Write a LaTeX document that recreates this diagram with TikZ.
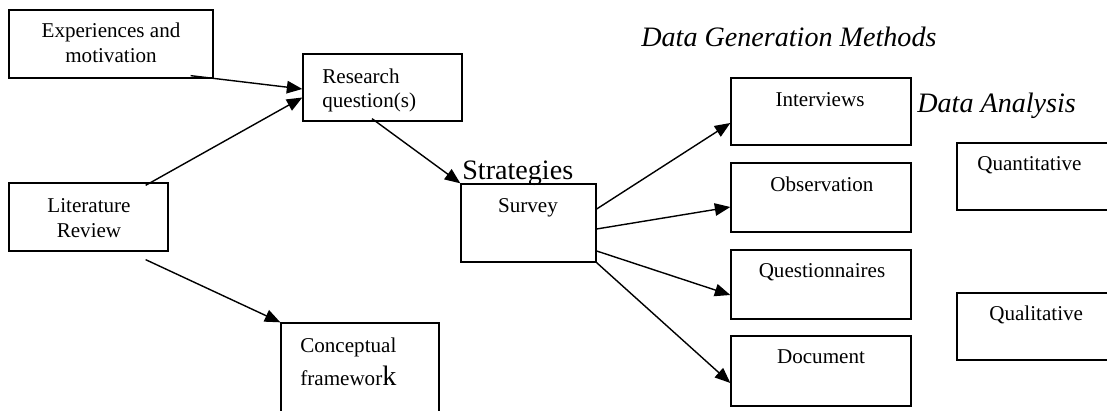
\documentclass[tikz,border=0pt]{standalone}
\usepackage{fontspec}
\setmainfont{Liberation Serif}
\usetikzlibrary{arrows.meta,calc,fit}
\begin{document}
\begin{tikzpicture}[x=0.02cm,y=-0.02cm,
  box/.style={draw,line width=0.75pt,inner sep=0pt},
  txt/.style={inner sep=0pt,anchor=base,font=\fontsize{12}{14}\selectfont},
  txtl/.style={txt,anchor=base west},
  big/.style={inner sep=0pt,anchor=base west,font=\fontsize{16}{19}\selectfont},
  bigit/.style={big,font=\fontsize{16}{19}\selectfont\itshape},
  arr/.style={line width=0.8pt,-{Triangle[length=0.31cm,width=0.25cm]}}]
\useasboundingbox (0,0) rectangle (1107,411);
\clip (0,0) rectangle (1107,411);
% boxes
\node[box,fit={(9,10) (213,78)}] (exp) {};
\node[box,fit={(303,54) (462,121)}] (res) {};
\node[box,fit={(9,183) (168,251)}] (lit) {};
\node[box,fit={(281,323) (439,430)}] (con) {};
\node[box,fit={(461,184) (596,262)}] (sur) {};
\node[box,fit={(731,78) (911,145)}] (int) {};
\node[box,fit={(731,163) (911,232)}] (obs) {};
\node[box,fit={(731,250) (911,319)}] (que) {};
\node[box,fit={(731,336) (911,406)}] (doc) {};
\node[box,fit={(957,143) (1130,210)}] (qnt) {};
\node[box,fit={(957,293) (1130,360)}] (qlt) {};
% texts
\node[txt] (exp1) at (111,38) {Experiences and};
\node[txt] (exp2) at (111,63) {motivation};
\node[txtl] (res1) at (322,84) {Research};
\node[txtl] (res2) at (322,108) {question(s)};
\node[txt] (lit1) at (89,213) {Literature};
\node[txt] (lit2) at (89,238) {Review};
\node[txtl] (con1) at (300,353) {Conceptual};
\node[txtl] (con2) at (300,386) {framewor{\fontsize{16}{19}\selectfont k}};
\node[big] (strat) at (462,180) {Strategies};
\node[txt] (sur1) at (528,213) {Survey};
\node[bigit] (dgm) at (641,47) {Data Generation Methods};
\node[bigit] (da) at (917,113) {Data Analysis};
\node[txt] (int1) at (820,107) {Interviews};
\node[txt] (obs1) at (822,192) {Observation};
\node[txt] (que1) at (822,278) {Questionnaires};
\node[txt] (doc1) at (821,364) {Document};
\node[txtl] (qnt1) at (977,171) {Quantitative};
\node[txtl] (qlt1) at (989,321) {Qualitative};
% connectors
\draw[arr] ($(exp.south east)+(-23,-3)$) -- ($(res.west)+(0,1.5)$);
\draw[arr] ($(lit.north east)+(-23,3)$) -- ($(res.west)+(0,10)$);
\draw[arr] ($(lit.south east)+(-23,8)$) -- (con.north west);
\draw[arr] ($(res.south)+(-10.5,-3)$) -- (sur.north west);
\draw[arr] ($(sur.east)+(0,-14)$) -- ($(int.west)+(0,11.5)$);
\draw[arr] ($(sur.east)+(0,6)$) -- ($(obs.west)+(0,9.5)$);
\draw[arr] ($(sur.east)+(0,28)$) -- ($(que.west)+(0,10.5)$);
\draw[arr] (sur.south east) -- ($(doc.west)+(0,12)$);
\end{tikzpicture}
\end{document}
